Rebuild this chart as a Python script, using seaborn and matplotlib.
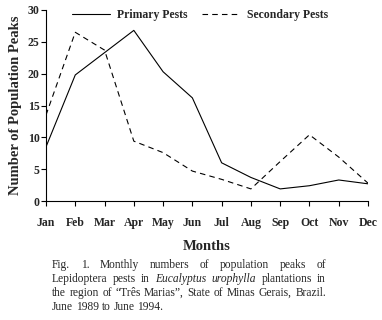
import numpy as np
import pandas as pd
import matplotlib
matplotlib.use("Agg")
import matplotlib.pyplot as plt
import seaborn as sns

months = ["Jan", "Feb", "Mar", "Apr", "May", "Jun", "Jul", "Aug", "Sep", "Oct", "Nov", "Dec"]
primary = [8.5, 19.8, 23.3, 26.8, 20.3, 16.2, 6.0, 3.7, 1.9, 2.4, 3.3, 2.7]
secondary = [13.5, 26.5, 23.7, 9.4, 7.6, 4.7, 3.4, 1.9, 6.2, 10.4, 6.9, 2.8]
series_names = ["Primary Pests", "Secondary Pests"]
y_ticks = [0, 5, 10, 15, 20, 25, 30]

df = pd.DataFrame({
    "pos": list(range(len(months))) * 2,
    "value": primary + secondary,
    "series": [series_names[0]] * len(months) + [series_names[1]] * len(months),
})

sns.set_style("ticks")
plt.rcParams["font.family"] = ["Liberation Serif", "DejaVu Serif"]
plt.rcParams["lines.scale_dashes"] = False

W, H = 382, 320
fig = plt.figure(figsize=(W / 100, H / 100), dpi=100)
ax = fig.add_axes([46 / W, 1 - 201 / H, (368 - 46) / W, (201 - 10) / H])

sns.lineplot(data=df, x="pos", y="value", hue="series", style="series",
             palette={series_names[0]: "black", series_names[1]: "black"},
             dashes={series_names[0]: "", series_names[1]: (4, 3)},
             linewidth=0.8, ax=ax, legend=True)

handles, labels = ax.get_legend_handles_labels()
ax.get_legend().remove()
for h in handles:
    h.set_linewidth(0.8)
fig.legend(handles, labels, loc="center", bbox_to_anchor=(200 / W, 1 - 15 / H),
           ncol=2, frameon=False, handlelength=3.2, handletextpad=0.6,
           columnspacing=1.2, prop={"weight": "bold", "size": 8.5})

ax.set_xlim(0, len(months) - 1)
ax.set_ylim(0, 30)
ax.set_xticks(range(len(months)))
ax.set_xticklabels(months)
ax.set_yticks(y_ticks)
ax.set_yticklabels([str(t) for t in y_ticks])
for lab in ax.get_xticklabels() + ax.get_yticklabels():
    lab.set_fontweight("bold")
    lab.set_fontsize(8.5)
ax.tick_params(axis="both", length=3.5, width=0.8, color="black")
ax.tick_params(axis="x", pad=8)
ax.tick_params(axis="y", pad=1)
for s in ["top", "right"]:
    ax.spines[s].set_visible(False)
for s in ["left", "bottom"]:
    ax.spines[s].set_linewidth(0.8)
    ax.spines[s].set_color("black")
ax.set_xlabel("")
ax.set_ylabel("Number of Population Peaks", fontsize=10.5, fontweight="bold", labelpad=4)

fig.text(207 / W, 1 - 246 / H, "Months", ha="center", va="center",
         fontsize=10.5, fontweight="bold")

# Justified caption
caption_lines = [
    [("Fig.", "normal"), ("1.", "normal"), ("Monthly", "normal"), ("numbers", "normal"),
     ("of", "normal"), ("population", "normal"), ("peaks", "normal"), ("of", "normal")],
    [("Lepidoptera", "normal"), ("pests", "normal"), ("in", "normal"), ("Eucalyptus", "italic"),
     ("urophylla", "italic"), ("plantations", "normal"), ("in", "normal")],
    [("the", "normal"), ("region", "normal"), ("of", "normal"), ("\u201cTr\u00eas", "normal"),
     ("Marias\u201d,", "normal"), ("State", "normal"), ("of", "normal"), ("Minas", "normal"),
     ("Gerais,", "normal"), ("Brazil.", "normal")],
    [("June", "normal"), ("1989", "normal"), ("to", "normal"), ("June", "normal"), ("1994.", "normal")],
]
x_left, x_right = 52, 326
baselines = [268, 282, 296, 310]
cap_size = 8.3
fig.canvas.draw()
renderer = fig.canvas.get_renderer()
space_probe = fig.text(0, 0, "a a", fontsize=cap_size)
a_probe = fig.text(0, 0, "aa", fontsize=cap_size)
space_w = space_probe.get_window_extent(renderer).width - a_probe.get_window_extent(renderer).width
space_probe.remove()
a_probe.remove()
for i, (words, yb) in enumerate(zip(caption_lines, baselines)):
    texts = []
    for w, st in words:
        t = fig.text(0, 1 - yb / H, w, fontsize=cap_size, style=st, va="baseline", ha="left")
        texts.append(t)
    widths = [t.get_window_extent(renderer).width for t in texts]
    if i < len(caption_lines) - 1:
        gap = (x_right - x_left - sum(widths)) / (len(words) - 1)
    else:
        gap = space_w
    x = x_left
    for t, wd in zip(texts, widths):
        t.set_x(x / W)
        x += wd + gap

fig.savefig("out.png", dpi=100)
